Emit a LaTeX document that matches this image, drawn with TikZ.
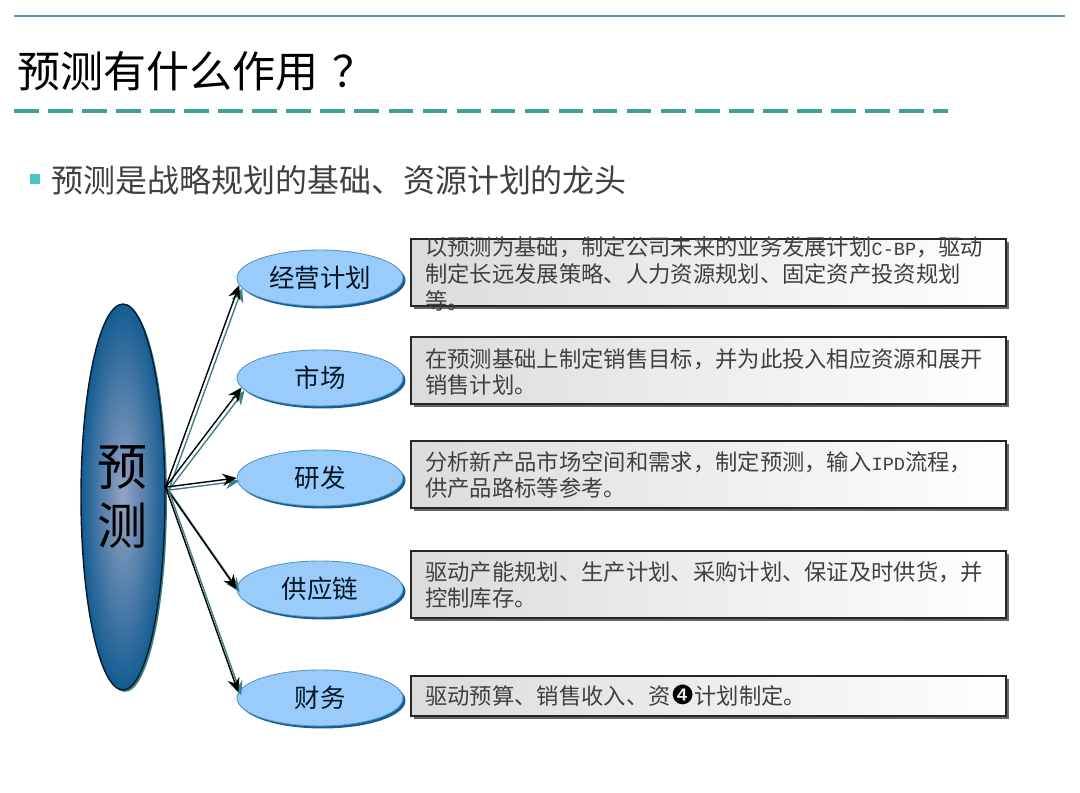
\documentclass[tikz,border=0pt]{standalone}
\usepackage{fontspec}
\setmainfont{Noto Sans CJK SC}
\newfontfamily\symfont{DejaVu Sans}
\newfontfamily\halffont{Liberation Mono}
\newcommand{\halfw}[1]{{\halffont\fontsize{10.6}{15.3}\selectfont #1}}
\usetikzlibrary{arrows.meta, shapes.geometric, shadows}
\definecolor{ruleblue}{RGB}{96, 152, 166}
\definecolor{dashteal}{RGB}{62, 160, 150}
\definecolor{bulletteal}{RGB}{70, 200, 192}
\definecolor{skyblue}{RGB}{153, 204, 250}
\definecolor{skyedge}{RGB}{84, 150, 196}
\definecolor{deepblue}{RGB}{20, 92, 146}
\definecolor{hazeblue}{RGB}{150, 164, 196}
\definecolor{arrowshade}{RGB}{62, 128, 136}
\definecolor{bodygray}{RGB}{64, 64, 64}
\tikzset{
  forecastnode/.style={ellipse, draw=black!70!deepblue, line width=0.8pt, inner sep=0pt,
    minimum width=1.68cm, minimum height=7.72cm, inner color=hazeblue, outer color=deepblue,
    general shadow={fill=arrowshade, shadow xshift=0.04cm, shadow yshift=-0.04cm},
    align=center, font=\fontsize{28.5}{34}\selectfont},
  areanode/.style={ellipse, draw=skyedge, fill=skyblue, line width=0.5pt, inner sep=0pt,
    minimum width=3.32cm, minimum height=1.12cm, text=black!75!deepblue,
    general shadow={fill=deepblue, shadow xshift=0.05cm, shadow yshift=-0.05cm},
    font=\fontsize{14.5}{17}\selectfont},
  infobox/.style={rectangle, draw=black!85, line width=0.7pt, inner sep=0pt,
    minimum width=11.9cm, left color=black!14, right color=white,
    general shadow={fill=black!60, shadow xshift=0.06cm, shadow yshift=-0.06cm}},
  infotext/.style={anchor=west, align=left, inner sep=0pt, text=bodygray,
    font=\fontsize{12.7}{15.3}\selectfont},
  linkline/.style={draw=black, line width=0.8pt, -{Stealth[length=8pt, width=7pt]}},
  linkshade/.style={draw=arrowshade, line width=0.8pt, -{Stealth[length=8pt, width=7pt]},
    transform canvas={xshift=0.06cm, yshift=-0.06cm}}
}

\begin{document}
\begin{tikzpicture}[x=0.02cm, y=-0.02cm]
  \useasboundingbox (0,0) rectangle (1080,793);

  % header
  \draw[ruleblue, line width=1.1pt] (14,16) -- (1065,16);
  \node[anchor=west, inner sep=0pt, font=\fontsize{24.5}{28}\selectfont] (title) at (17,71) {预测有什么作用\hspace{8pt}？};
  \draw[dashteal, line width=1.8pt, dash pattern=on 14pt off 5.38pt] (14,111) -- (948,111);
  \node[rectangle, fill=bulletteal, inner sep=0pt, minimum size=0.2cm] (bullet) at (35,179) {};
  \node[anchor=west, inner sep=0pt, text=bodygray, font=\fontsize{18.2}{22}\selectfont] (subtitle) at (51,180) {预测是战略规划的基础、资源计划的龙头};

  % links, shadow first
  \node[forecastnode] (forecast) at (123,497) {预\\测};
  \node[areanode] (plan) at (320,278) {经营计划};
  \node[areanode] (market) at (320,378) {市场};
  \node[areanode] (rnd) at (320,478) {研发};
  \node[areanode] (supply) at (320,589) {供应链};
  \node[areanode] (finance) at (320,698) {财务};

  \draw[linkshade] (forecast.13) -- (plan.185);
  \draw[linkline] (forecast.13) -- (plan.185);
  \draw[linkshade] (forecast.13) -- (market.187);
  \draw[linkline] (forecast.13) -- (market.187);
  \draw[linkshade] (forecast.13) -- (rnd.180);
  \draw[linkline] (forecast.13) -- (rnd.180);
  \draw[linkshade] (forecast.13) -- (supply.180);
  \draw[linkline] (forecast.13) -- (supply.180);
  \draw[linkshade] (forecast.13) -- (finance.176);
  \draw[linkline] (forecast.13) -- (finance.176);

  % text boxes
  \node[infobox, minimum height=1.34cm] (planbox) at (708.5,272.5) {};
  \node[infotext] (plantext) at (425,274) {以预测为基础，制定公司未来的业务发展计划\halfw{C-BP}，驱动\\制定长远发展策略、人力资源规划、固定资产投资规划\\等。};
  \node[infobox, minimum height=1.34cm] (marketbox) at (708.5,370.5) {};
  \node[infotext] (markettext) at (425,372) {在预测基础上制定销售目标，并为此投入相应资源和展开\\销售计划。};
  \node[infobox, minimum height=1.34cm] (rndbox) at (708.5,474.5) {};
  \node[infotext] (rndtext) at (425,475) {分析新产品市场空间和需求，制定预测，输入\halfw{IPD}流程，\\供产品路标等参考。};
  \node[infobox, minimum height=1.34cm] (supplybox) at (708.5,584.5) {};
  \node[infotext] (supplytext) at (425,585) {驱动产能规划、生产计划、采购计划、保证及时供货，并\\控制库存。};
  \node[infobox, minimum height=0.8cm] (financebox) at (708.5,696) {};
  \node[infotext] (financetext) at (425,696) {驱动预算、销售收入、资{\symfont\fontsize{15}{15.3}\selectfont\textcolor{black}{❹}}计划制定。};
\end{tikzpicture}
\end{document}
